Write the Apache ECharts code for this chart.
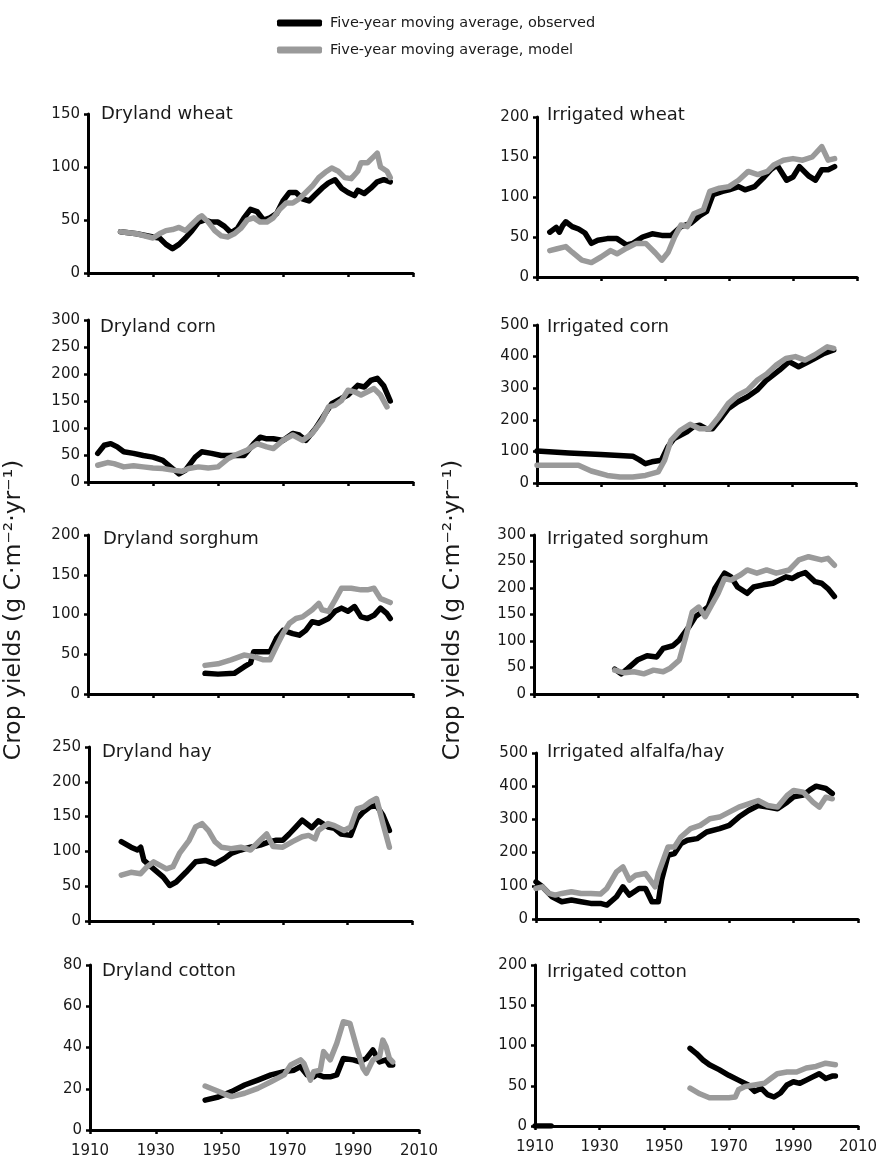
<!DOCTYPE html>
<html><head><meta charset="utf-8">
<script src="https://cdn.jsdelivr.net/npm/echarts@6/dist/echarts.min.js"></script>
<style>html,body{margin:0;padding:0;background:#fff}#c{width:884px;height:1161px}</style>
</head><body><div id="c"></div>
<script>
const FONT = 'DejaVu Sans';
const seriesNames = ['Five-year moving average, observed', 'Five-year moving average, model'];
const panelTitles = ['Dryland wheat','Irrigated wheat','Dryland corn','Irrigated corn','Dryland sorghum','Irrigated sorghum','Dryland hay','Irrigated alfalfa/hay','Dryland cotton','Irrigated cotton'];
const yMaxes = [150,200,300,500,200,300,250,500,80,200];
const yIntervals = [50,50,50,100,50,50,50,100,20,50];
const xTicks = [1910,1930,1950,1970,1990,2010];
const yAxisTitle = 'Crop yields (g C·m⁻²·yr⁻¹)';

const dryWheatObs = [[1920,39],[1925,37],[1930,34],[1932,33],[1934,27],[1936,23],[1938,27],[1940,33],[1942,40],[1944,48],[1946,50],[1948,48],[1950,48],[1952,44],[1954,38],[1956,42],[1958,52],[1960,60],[1962,58],[1964,50],[1966,52],[1968,56],[1970,68],[1972,76],[1974,76],[1976,70],[1978,68],[1980,74],[1982,80],[1984,85],[1986,88],[1988,80],[1990,76],[1992,73],[1993,78],[1995,75],[1997,80],[1999,86],[2001,88],[2003,86]];
const dryWheatModel = [[1920,39],[1925,37],[1930,33],[1932,37],[1934,40],[1936,41],[1938,43],[1940,40],[1942,46],[1944,52],[1945,54],[1947,48],[1949,40],[1951,35],[1953,34],[1955,37],[1957,42],[1959,50],[1961,52],[1963,48],[1965,48],[1967,52],[1969,60],[1971,66],[1973,66],[1975,70],[1977,76],[1979,82],[1981,90],[1983,95],[1985,99],[1987,96],[1989,90],[1991,89],[1993,96],[1994,104],[1996,104],[1998,110],[1999,113],[2000,100],[2002,96],[2003,90]];

const irrWheatObs = [[1914,56],[1916,62],[1917,56],[1918,64],[1919,69],[1921,63],[1923,60],[1925,55],[1927,42],[1929,46],[1932,48],[1935,48],[1938,40],[1940,42],[1943,50],[1946,54],[1949,52],[1952,52],[1955,63],[1958,67],[1961,77],[1963,82],[1965,103],[1968,107],[1970,109],[1973,113],[1975,109],[1978,113],[1981,125],[1983,134],[1985,140],[1988,121],[1990,125],[1992,138],[1995,126],[1997,121],[1999,134],[2001,134],[2003,138]];
const irrWheatModel = [[1914,33],[1916,35],[1919,38],[1921,31],[1924,21],[1927,18],[1930,25],[1933,33],[1935,29],[1938,36],[1941,42],[1944,42],[1947,30],[1949,21],[1951,31],[1953,50],[1955,65],[1957,63],[1959,79],[1962,84],[1964,107],[1967,111],[1970,113],[1973,121],[1976,132],[1979,128],[1982,132],[1984,140],[1987,146],[1990,148],[1993,146],[1996,150],[1999,163],[2001,146],[2003,148]];

const dryCornObs = [[1913,53],[1915,68],[1917,71],[1919,65],[1921,56],[1924,53],[1927,49],[1930,46],[1933,40],[1936,25],[1938,15],[1940,22],[1943,46],[1945,56],[1948,53],[1951,49],[1955,49],[1958,49],[1961,71],[1963,83],[1965,80],[1967,80],[1970,77],[1973,90],[1975,87],[1977,77],[1980,99],[1983,127],[1985,145],[1988,155],[1990,161],[1993,179],[1995,176],[1997,188],[1999,192],[2001,178],[2003,150]];
const dryCornModel = [[1913,31],[1916,36],[1918,34],[1921,28],[1924,30],[1927,28],[1930,26],[1933,25],[1936,22],[1939,20],[1941,25],[1944,28],[1947,26],[1950,28],[1953,43],[1955,49],[1959,59],[1962,71],[1965,65],[1967,62],[1970,77],[1973,87],[1976,77],[1979,90],[1982,114],[1984,139],[1986,142],[1988,151],[1990,170],[1992,167],[1994,161],[1996,167],[1998,173],[2000,161],[2002,139]];

const irrCornObs = [[1910,101],[1920,95],[1930,90],[1940,85],[1942,74],[1944,61],[1946,67],[1949,72],[1951,114],[1953,141],[1957,162],[1959,178],[1961,183],[1963,172],[1965,172],[1968,209],[1970,236],[1973,257],[1976,273],[1979,294],[1982,326],[1986,357],[1989,384],[1992,368],[1994,378],[1997,394],[2000,410],[2003,421]];
const irrCornModel = [[1910,56],[1923,56],[1927,38],[1932,24],[1936,19],[1940,19],[1944,24],[1948,35],[1950,72],[1952,135],[1955,167],[1958,186],[1961,172],[1964,172],[1967,209],[1970,252],[1973,278],[1976,294],[1979,325],[1982,345],[1985,373],[1988,394],[1991,400],[1994,389],[1997,405],[2001,431],[2003,426]];

const drySorghumObs = [[1946,26],[1950,25],[1955,26],[1958,34],[1960,39],[1961,53],[1964,53],[1966,53],[1968,70],[1970,80],[1973,76],[1975,74],[1977,80],[1979,91],[1981,89],[1984,95],[1986,104],[1988,108],[1990,104],[1992,110],[1994,97],[1996,95],[1998,99],[2000,108],[2002,101],[2003,95]];
const drySorghumModel = [[1946,36],[1950,38],[1954,43],[1958,49],[1961,47],[1964,43],[1966,43],[1968,60],[1970,76],[1972,89],[1974,95],[1976,97],[1979,106],[1981,114],[1982,106],[1984,104],[1986,118],[1988,133],[1991,133],[1994,131],[1996,131],[1998,133],[2000,120],[2003,115]];

const irrSorghumObs = [[1935,47],[1937,38],[1939,48],[1942,64],[1945,72],[1948,70],[1950,86],[1953,91],[1955,102],[1958,127],[1960,146],[1962,155],[1964,165],[1966,199],[1969,228],[1971,221],[1973,202],[1976,190],[1978,202],[1981,206],[1984,209],[1988,221],[1990,218],[1992,225],[1994,229],[1997,212],[1999,209],[2001,199],[2003,184]];
const irrSorghumModel = [[1935,45],[1938,40],[1941,42],[1944,38],[1947,45],[1950,42],[1952,48],[1955,64],[1957,108],[1959,155],[1961,164],[1963,146],[1965,168],[1967,190],[1969,218],[1971,215],[1974,225],[1976,234],[1979,228],[1982,234],[1985,228],[1989,234],[1992,253],[1995,259],[1999,253],[2001,256],[2003,243]];

const dryHayObs = [[1920,114],[1923,106],[1925,102],[1926,106],[1927,87],[1930,75],[1933,63],[1935,51],[1937,56],[1940,70],[1943,85],[1946,87],[1949,82],[1952,90],[1954,97],[1957,102],[1960,106],[1963,109],[1966,114],[1968,116],[1970,116],[1972,125],[1974,135],[1976,145],[1979,134],[1981,144],[1984,135],[1986,133],[1988,125],[1991,123],[1993,147],[1995,157],[1997,164],[1999,166],[2001,152],[2003,130]];
const dryHayModel = [[1920,66],[1923,70],[1926,68],[1928,78],[1930,85],[1932,80],[1934,75],[1936,78],[1938,97],[1941,116],[1943,135],[1945,140],[1947,130],[1949,114],[1951,106],[1954,104],[1957,106],[1960,102],[1963,116],[1965,125],[1967,107],[1970,106],[1973,114],[1976,121],[1978,123],[1980,118],[1981,130],[1984,140],[1986,137],[1989,130],[1991,135],[1993,161],[1995,164],[1997,171],[1999,176],[2001,140],[2003,106]];

const irrAlfalfaObs = [[1910,112],[1912,97],[1915,67],[1918,52],[1921,57],[1924,52],[1927,47],[1930,47],[1932,42],[1935,67],[1937,97],[1939,72],[1942,92],[1944,92],[1946,52],[1948,52],[1949,117],[1951,192],[1953,197],[1955,227],[1957,237],[1960,242],[1963,262],[1967,272],[1970,282],[1973,307],[1976,327],[1979,342],[1982,337],[1985,332],[1988,352],[1990,368],[1993,373],[1995,388],[1997,400],[2000,393],[2002,378]];
const irrAlfalfaModel = [[1910,92],[1912,97],[1914,77],[1916,72],[1918,77],[1921,82],[1924,77],[1927,77],[1930,75],[1932,92],[1935,142],[1937,157],[1939,117],[1941,132],[1944,137],[1947,97],[1948,137],[1951,217],[1953,217],[1955,247],[1958,272],[1961,282],[1964,302],[1967,307],[1970,322],[1973,337],[1976,347],[1979,357],[1982,342],[1985,337],[1988,372],[1990,387],[1993,382],[1996,352],[1998,337],[2000,367],[2002,362]];

const dryCottonObs = [[1945,14.5],[1949,16],[1953,18.6],[1957,21.8],[1961,24.2],[1965,26.7],[1969,28.3],[1972,29],[1974,30.7],[1976,26.7],[1978,25.8],[1979,27],[1981,25.8],[1983,25.8],[1985,26.7],[1986,30.7],[1987,34.7],[1990,34],[1992,33],[1994,34.7],[1996,38.8],[1998,33],[2000,34],[2001,31.5],[2002,31.5]];
const dryCottonModel = [[1945,21.3],[1948,19.4],[1951,17.4],[1953,16.2],[1957,17.8],[1961,20.2],[1965,23.4],[1969,26.7],[1971,31.5],[1974,34],[1975,32.3],[1977,24.2],[1978,28.3],[1980,29],[1981,38],[1983,34],[1985,42],[1987,52.5],[1989,51.7],[1991,40.4],[1993,29.9],[1994,27.5],[1996,34],[1998,35.5],[1999,43.6],[2000,40.4],[2001,34.7],[2002,33]];

const irrCottonObsEarly = [[1910,0],[1915,0]];
const irrCottonObs = [[1958,96.5],[1960,90],[1962,82],[1964,76],[1967,70],[1970,63],[1973,57],[1976,51],[1978,43],[1980,47],[1982,39],[1984,36],[1986,41],[1988,51],[1990,55],[1992,53],[1994,57],[1996,61],[1998,65],[2000,59],[2002,62],[2003,62]];
const irrCottonModel = [[1958,47],[1961,40],[1964,35],[1967,35],[1970,35],[1972,36],[1973,45],[1975,49],[1978,51],[1981,53],[1983,59],[1985,65],[1988,67],[1991,67],[1994,72],[1997,74],[2000,78],[2003,76]];

const obsSets = [dryWheatObs, irrWheatObs, dryCornObs, irrCornObs, drySorghumObs, irrSorghumObs, dryHayObs, irrAlfalfaObs, dryCottonObs, irrCottonObs];
const modelSets = [dryWheatModel, irrWheatModel, dryCornModel, irrCornModel, drySorghumModel, irrSorghumModel, dryHayModel, irrAlfalfaModel, dryCottonModel, irrCottonModel];

// layout (pixels)
const layout = [
  {l:88,t:114,w:325,h:159,tx:101,tb:120},
  {l:537,t:117,w:320,h:160,tx:547,tb:121},
  {l:88,t:320,w:325,h:162,tx:100,tb:333},
  {l:537,t:325,w:319,h:158,tx:547,tb:333},
  {l:88,t:535,w:325,h:159,tx:103,tb:545},
  {l:534,t:535,w:323,h:159,tx:547,tb:545},
  {l:89,t:747,w:323,h:174,tx:102,tb:758},
  {l:536,t:753,w:322,h:166,tx:547,tb:758},
  {l:90,t:965,w:329,h:165,tx:102,tb:977},
  {l:535,t:965,w:323,h:161,tx:547,tb:978}
];

const OBS_COLOR = '#000000';
const MODEL_COLOR = '#9a9a9a';
const grids = [], xAxes = [], yAxes = [], series = [], titles = [];
const axisLineStyle = {color:'#000', width:3};
const tickStyle = {color:'#000', width:2.5};
const labelStyle = {fontFamily:FONT, fontSize:15, color:'#1a1a1a'};

layout.forEach((L, i) => {
  grids.push({left:L.l, top:L.t, width:L.w, height:L.h, containLabel:false});
  xAxes.push({
    type:'value', gridIndex:i, min:xTicks[0], max:xTicks[xTicks.length-1], interval:20,
    axisLine:{show:true, onZero:false, lineStyle:axisLineStyle},
    axisTick:{show:true, length:4, lineStyle:tickStyle},
    axisLabel:Object.assign({show: i >= 8, margin:14, formatter: v => String(v)}, labelStyle),
    splitLine:{show:false}
  });
  yAxes.push({
    type:'value', gridIndex:i, min:0, max:yMaxes[i], interval:yIntervals[i],
    axisLine:{show:true, onZero:false, lineStyle:axisLineStyle},
    axisTick:{show:true, length:4, lineStyle:tickStyle},
    axisLabel:Object.assign({margin:8}, labelStyle),
    splitLine:{show:false}
  });
  const base = {type:'line', xAxisIndex:i, yAxisIndex:i, showSymbol:false, symbol:'none', animation:false, smooth:false};
  series.push(Object.assign({}, base, {name:seriesNames[0], data:obsSets[i], z:2,
    lineStyle:{color:OBS_COLOR, width:5.5, cap:'round', join:'round'}, itemStyle:{color:OBS_COLOR}}));
  if (i === 9) {
    series.push(Object.assign({}, base, {name:seriesNames[0], data:irrCottonObsEarly, z:2,
      lineStyle:{color:OBS_COLOR, width:5.5, cap:'round', join:'round'}, itemStyle:{color:OBS_COLOR}}));
  }
  series.push(Object.assign({}, base, {name:seriesNames[1], data:modelSets[i], z:3,
    lineStyle:{color:MODEL_COLOR, width:5.5, cap:'round', join:'round'}, itemStyle:{color:MODEL_COLOR}}));
  titles.push({text:panelTitles[i], left:L.tx, top:L.tb - 15, padding:0,
    textStyle:{fontFamily:FONT, fontSize:18, fontWeight:'normal', color:'#1a1a1a'}});
});

const chart = echarts.init(document.getElementById('c'), null, {renderer:'canvas'});
chart.setOption({
  backgroundColor:'#ffffff',
  animation:false,
  title:titles,
  grid:grids, xAxis:xAxes, yAxis:yAxes, series:series,
  legend:{
    data:seriesNames, orient:'vertical', left:272, top:10,
    itemWidth:45, itemHeight:7, itemGap:11, icon:'roundRect', selectedMode:false,
    textStyle:{fontFamily:FONT, fontSize:14.5, color:'#1a1a1a', lineHeight:16, padding:[0,0,0,3]}
  },
  graphic:[
    {type:'text', x:14, y:610, rotation:Math.PI/2,
      style:{text:yAxisTitle, font:'23.5px "DejaVu Sans"', fill:'#1a1a1a', align:'center', verticalAlign:'middle'}},
    {type:'text', x:453, y:610, rotation:Math.PI/2,
      style:{text:yAxisTitle, font:'23.5px "DejaVu Sans"', fill:'#1a1a1a', align:'center', verticalAlign:'middle'}}
  ]
});
</script>
</body></html>
